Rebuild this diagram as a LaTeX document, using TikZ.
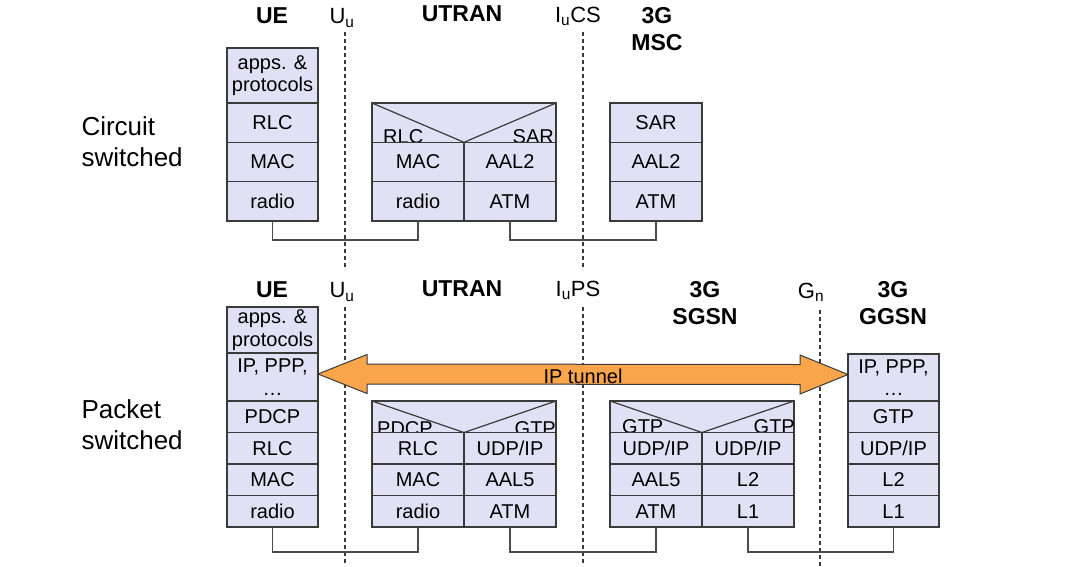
\documentclass[tikz,border=0pt]{standalone}
\usepackage{fontspec}
\setmainfont{Liberation Sans}
\usepackage{tikz}
\usetikzlibrary{positioning, calc}
\definecolor{layerFill}{HTML}{E1E1F5}
\definecolor{boxLine}{HTML}{3A3A3A}
\definecolor{linkGrey}{HTML}{4D4D4D}
\definecolor{tunnelOrange}{HTML}{F9A54B}
\newcommand{\rowfont}{\fontsize{20}{22.5}\selectfont}
\newcommand{\headfont}{\fontsize{23}{27}\selectfont\bfseries}
\newcommand{\ifacefont}{\fontsize{22}{26}\selectfont}
\newcommand{\sidefont}{\fontsize{26}{31}\selectfont}
\begin{document}
\begin{tikzpicture}[x=1pt, y=-1pt,
  layer/.style={draw=boxLine, fill=layerFill, line width=1.2pt, inner sep=0pt, outer sep=0pt, align=center, font=\rowfont, minimum width=92pt},
  cs/.style={minimum height=39.3pt},
  ps/.style={minimum height=31.5pt},
  vtop/.style={layer, minimum width=184pt},
  vlab/.style={font=\rowfont, inner sep=0pt},
  head/.style={font=\headfont, align=center},
  iface/.style={font=\ifacefont},
  side/.style={font=\sidefont, align=left, anchor=west},
  refline/.style={draw=boxLine, line width=1.1pt, dash pattern=on 4pt off 3pt},
  link/.style={draw=linkGrey, line width=1.3pt},
  tunnel/.style={draw=boxLine, fill=tunnelOrange, line width=1pt, line join=miter}]
  \useasboundingbox (0,0) rectangle (1080,566);

  % circuit switched
  \node[side] (csLbl) at (78,142) {Circuit\\switched};
  \node[head] (ueCS) at (272,16) {UE};
  \node[iface] (uuCS) at (342,18) {U\textsubscript{u}};
  \node[head] (utCS) at (462,14) {UTRAN};
  \node[iface] (iuCS) at (578,16) {I\textsubscript{u}CS};
  \node[head] (mscLbl) at (657,29.5) {3G\\MSC};
  \draw[refline] (345,32) -- (345,270);
  \draw[refline] (583,32) -- (583,270);

  \node[layer, minimum width=91pt, minimum height=55pt, anchor=north west] (ucApp) at (227,48) {apps. \&\\protocols};
  \node[layer, cs, minimum width=91pt, below=0pt of ucApp] (ucRlc) {RLC};
  \node[layer, cs, minimum width=91pt, below=0pt of ucRlc] (ucMac) {MAC};
  \node[layer, cs, minimum width=91pt, below=0pt of ucMac] (ucRad) {radio};

  \node[vtop, cs, anchor=north west] (tcTop) at (372,103) {};
  \draw[boxLine, line width=1.2pt] (tcTop.north west) -- (tcTop.south) -- (tcTop.north east);
  \node[vlab, anchor=base west] (tcRlc) at ([xshift=11pt, yshift=-1pt]tcTop.south west) {RLC};
  \node[vlab, anchor=base east] (tcSar) at ([xshift=-2pt, yshift=-1pt]tcTop.south east) {SAR};
  \node[layer, cs, anchor=north west] (tcMac) at (tcTop.south west) {MAC};
  \node[layer, cs, right=0pt of tcMac] (tcAal) {AAL2};
  \node[layer, cs, below=0pt of tcMac] (tcRad) {radio};
  \node[layer, cs, below=0pt of tcAal] (tcAtm) {ATM};

  \node[layer, cs, anchor=north west] (mSar) at (610,103) {SAR};
  \node[layer, cs, below=0pt of mSar] (mAal) {AAL2};
  \node[layer, cs, below=0pt of mAal] (mAtm) {ATM};

  \draw[link] (ucRad.south) -- ++(0,19) -| (tcRad.south);
  \draw[link] (tcAtm.south) -- ++(0,19) -| (mAtm.south);

  % packet switched
  \node[side] (psLbl) at (78,424.5) {Packet\\switched};
  \node[head] (uePS) at (272,290) {UE};
  \node[iface] (uuPS) at (342,292) {U\textsubscript{u}};
  \node[head] (utPS) at (462,289) {UTRAN};
  \node[iface] (iuPS) at (578,290) {I\textsubscript{u}PS};
  \node[head] (sgsnLbl) at (705,303.5) {3G\\SGSN};
  \node[iface] (gnPS) at (811,292) {G\textsubscript{n}};
  \node[head] (ggsnLbl) at (893,303.5) {3G\\GGSN};
  \draw[refline] (345,307) -- (345,566);
  \draw[refline] (583,307) -- (583,566);
  \draw[refline] (820,310) -- (820,566);

  \node[layer, minimum width=91pt, minimum height=46pt, anchor=north west] (upApp) at (227,307) {apps. \&\\protocols};
  \node[layer, minimum width=91pt, minimum height=48pt, below=0pt of upApp] (upIp) {IP, PPP,\\\dots};
  \node[layer, ps, minimum width=91pt, below=0pt of upIp] (upPdcp) {PDCP};
  \node[layer, ps, minimum width=91pt, below=0pt of upPdcp] (upRlc) {RLC};
  \node[layer, ps, minimum width=91pt, below=0pt of upRlc] (upMac) {MAC};
  \node[layer, ps, minimum width=91pt, below=0pt of upMac] (upRad) {radio};

  \node[vtop, ps, anchor=north west] (tpTop) at (372,401) {};
  \draw[boxLine, line width=1.2pt] (tpTop.north west) -- (tpTop.south) -- (tpTop.north east);
  \node[vlab, anchor=base west] (tpPdcp) at ([xshift=5pt, yshift=-3pt]tpTop.south west) {PDCP};
  \node[vlab, anchor=base east] (tpGtp) at ([xshift=0pt, yshift=-3pt]tpTop.south east) {GTP};
  \node[layer, ps, anchor=north west] (tpRlc) at (tpTop.south west) {RLC};
  \node[layer, ps, right=0pt of tpRlc] (tpUdp) {UDP/IP};
  \node[layer, ps, below=0pt of tpRlc] (tpMac) {MAC};
  \node[layer, ps, below=0pt of tpUdp] (tpAal) {AAL5};
  \node[layer, ps, below=0pt of tpMac] (tpRad) {radio};
  \node[layer, ps, below=0pt of tpAal] (tpAtm) {ATM};

  \node[vtop, ps, anchor=north west] (sTop) at (610,401) {};
  \draw[boxLine, line width=1.2pt] (sTop.north west) -- (sTop.south) -- (sTop.north east);
  \node[vlab, anchor=base west] (sGtpA) at ([xshift=12pt, yshift=-1pt]sTop.south west) {GTP};
  \node[vlab, anchor=base east] (sGtpB) at ([xshift=1pt, yshift=-1pt]sTop.south east) {GTP};
  \node[layer, ps, anchor=north west] (sUdpA) at (sTop.south west) {UDP/IP};
  \node[layer, ps, right=0pt of sUdpA] (sUdpB) {UDP/IP};
  \node[layer, ps, below=0pt of sUdpA] (sAal) {AAL5};
  \node[layer, ps, below=0pt of sUdpB] (sL2) {L2};
  \node[layer, ps, below=0pt of sAal] (sAtm) {ATM};
  \node[layer, ps, below=0pt of sL2] (sL1) {L1};

  \node[layer, minimum width=91pt, minimum height=47pt, anchor=north west] (gIp) at (848,354) {IP, PPP,\\\dots};
  \node[layer, ps, minimum width=91pt, below=0pt of gIp] (gGtp) {GTP};
  \node[layer, ps, minimum width=91pt, below=0pt of gGtp] (gUdp) {UDP/IP};
  \node[layer, ps, minimum width=91pt, below=0pt of gUdp] (gL2) {L2};
  \node[layer, ps, minimum width=91pt, below=0pt of gL2] (gL1) {L1};

  % IP tunnel
  \coordinate (tl) at ([yshift=3pt]upIp.east);
  \coordinate (tr) at ([yshift=3pt]gIp.west);
  \draw[tunnel] (tl) -- ++(49,-19.5) -- ++(0,9.5) -- ([xshift=-48pt, yshift=10pt]tr) -- ++(0,-9.5) -- (tr)
    -- ++(-48,19.5) -- ++(0,-9.5) -- ([xshift=49pt, yshift=-10pt]tl) -- ++(0,9.5) -- cycle;
  \node[font=\rowfont, yshift=-2pt] (tunLbl) at ($(tl)!0.5!(tr)$) {IP tunnel};

  \draw[link] (upRad.south) -- ++(0,25) -| (tpRad.south);
  \draw[link] (tpAtm.south) -- ++(0,25) -| (sAtm.south);
  \draw[link] (sL1.south) -- ++(0,25) -| (gL1.south);
\end{tikzpicture}
\end{document}
